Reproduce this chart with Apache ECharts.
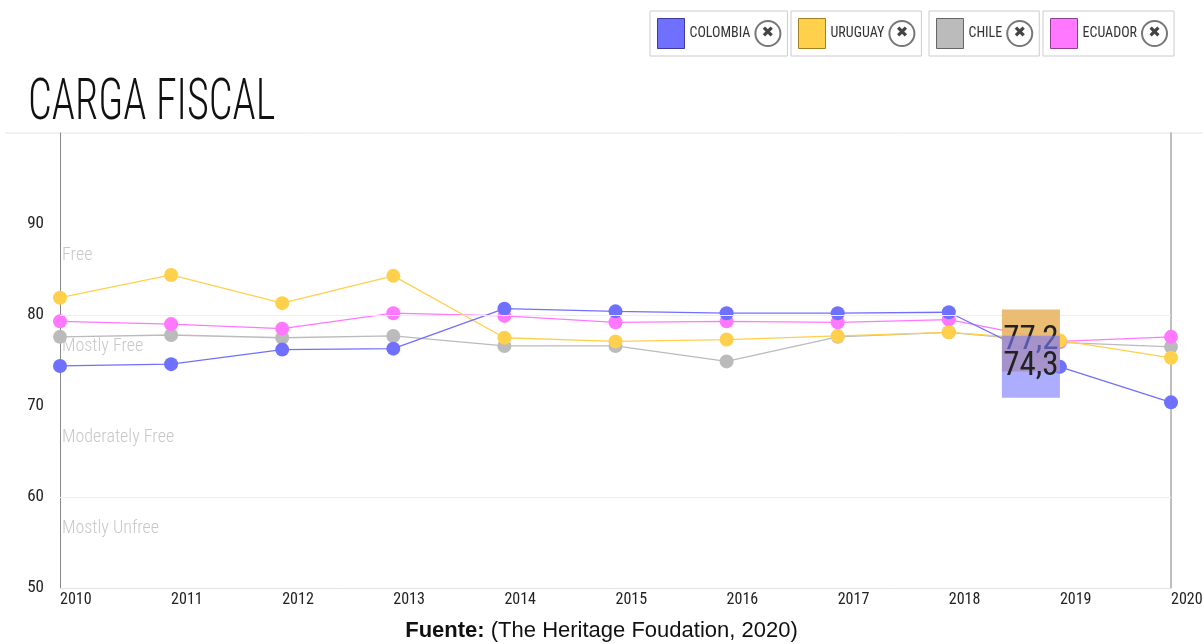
<!DOCTYPE html>
<html>
<head>
<meta charset="utf-8">
<script src="https://cdn.jsdelivr.net/npm/echarts@6/dist/echarts.min.js"></script>
<style>
  html, body { margin: 0; padding: 0; background: #fff; }
  #chart { width: 1203px; height: 644px; }
</style>
</head>
<body>
<div id="chart"></div>
<script>
// datos (indice de carga fiscal)
const years = ["2010", "2011", "2012", "2013", "2014", "2015", "2016", "2017", "2018", "2019", "2020"];
const colombia = [74.4, 74.6, 76.2, 76.3, 80.7, 80.4, 80.2, 80.2, 80.3, 74.3, 70.4];
const uruguay = [81.9, 84.4, 81.3, 84.3, 77.5, 77.1, 77.3, 77.7, 78.1, 77.2, 75.3];
const chile = [77.6, 77.8, 77.5, 77.7, 76.6, 76.6, 74.9, 77.6, 78.1, 77.0, 76.5];
const ecuador = [79.3, 79.0, 78.5, 80.2, 79.9, 79.2, 79.3, 79.2, 79.5, 77.1, 77.6];
const zones = [
  { name: "Free", from: 80, to: 90 },
  { name: "Mostly Free", from: 70, to: 80 },
  { name: "Moderately Free", from: 60, to: 70 },
  { name: "Mostly Unfree", from: 50, to: 60 },
];
const yTicks = [50, 60, 70, 80, 90];

const narrow = "'Roboto Condensed', 'DejaVu Sans Condensed', sans-serif";
const chart = echarts.init(document.getElementById("chart"));

const countries = [
  { name: "COLOMBIA", data: colombia, color: "#7070ff", border: "#3c3ca0" },
  { name: "URUGUAY", data: uruguay, color: "#ffd04c", border: "#a08020" },
  { name: "CHILE", data: chile, color: "#bbbbbb", border: "#666666" },
  { name: "ECUADOR", data: ecuador, color: "#ff78ff", border: "#904090" },
];
const legendLefts = [650, 791, 929, 1043];

function makeSeries(c, extra) {
  return Object.assign(
    {
      name: c.name,
      type: "line",
      data: c.data,
      symbol: "circle",
      symbolSize: 14,
      showSymbol: true,
      itemStyle: { color: c.color },
      lineStyle: { color: c.color, width: 1.3 },
      emphasis: { disabled: true },
      animation: false,
    },
    extra || {}
  );
}

function hoverBox(value, fill, z) {
  return {
    z: z,
    silent: true,
    symbol: "rect",
    symbolSize: [58, 62],
    symbolOffset: [-29, 0],
    itemStyle: { color: fill },
    label: {
      show: true,
      position: "inside",
      formatter: String(value).replace(".", ","),
      fontFamily: narrow,
      fontWeight: 400,
      fontSize: 33,
      color: "#222",
    },
    data: [{ coord: ["2019", value], value: value }],
  };
}

const option = {
  backgroundColor: "#fff",
  textStyle: { fontFamily: narrow },
  title: [
    {
      text: "{b|Fuente:} (The Heritage Foudation, 2020)",
      left: "center",
      top: 615,
      textStyle: {
        fontFamily: "'Liberation Sans', Arial, sans-serif",
        fontSize: 22,
        fontWeight: "normal",
        color: "#111",
        rich: {
          b: { fontFamily: "'Liberation Sans', Arial, sans-serif", fontSize: 22, fontWeight: "bold", color: "#111" },
        },
      },
    },
  ],
  legend: countries.map((c, i) => ({
    data: [c.name],
    left: legendLefts[i],
    top: 11,
    orient: "horizontal",
    selectedMode: false,
    icon: "rect",
    itemWidth: 27,
    itemHeight: 30,
    itemGap: 0,
    padding: [7, 6, 7, 7],
    borderColor: "#cccccc",
    borderWidth: 1,
    itemStyle: { borderColor: c.border, borderWidth: 1 },
    formatter: "{n|" + c.name + "}{x|✖}",
    textStyle: {
      rich: {
        n: { fontFamily: narrow, fontWeight: 400, fontSize: 14, color: "#333", padding: [0, 5, 0, 0] },
        x: {
          width: 25,
          height: 25,
          align: "center",
          borderRadius: 14,
          borderWidth: 2,
          borderColor: "#777",
          color: "#444",
          fontSize: 15,
          fontWeight: "bold",
          fontFamily: "'DejaVu Sans', sans-serif",
        },
      },
    },
  })),
  graphic: [
    {
      type: "text",
      left: 28,
      top: 76,
      scaleX: 0.74,
      silent: true,
      style: {
        text: "CARGA FISCAL",
        font: "300 57px 'Roboto Condensed', sans-serif",
        fill: "#111",
      },
    },
    {
      type: "line",
      shape: { x1: 5, y1: 133, x2: 1203, y2: 133 },
      style: { stroke: "#e6e6e6", lineWidth: 1 },
      silent: true,
    },
  ],
  grid: { left: 60, right: 32, top: 133, bottom: 56, outerBoundsMode: "none", containLabel: false },
  xAxis: {
    type: "category",
    data: years,
    boundaryGap: false,
    axisLine: { lineStyle: { color: "#e2e2e2" } },
    axisTick: { show: false },
    axisLabel: {
      align: "left",
      margin: 4,
      fontFamily: narrow,
      fontWeight: 400,
      fontSize: 16,
      color: "#222",
    },
    splitLine: { show: false },
  },
  yAxis: [
    {
      type: "value",
      min: 50,
      max: 100,
      interval: 10,
      axisLine: { show: true, lineStyle: { color: "#888" } },
      axisTick: { show: false },
      splitLine: { show: false },
      axisLabel: {
        margin: 16,
        fontFamily: narrow,
        fontWeight: 400,
        fontSize: 17,
        color: "#222",
        formatter: (v) => (yTicks.indexOf(v) >= 0 ? String(v) : ""),
      },
    },
    {
      type: "value",
      position: "right",
      min: 50,
      max: 100,
      interval: 10,
      axisLine: { show: true, lineStyle: { color: "#aaaaaa", width: 1.5 } },
      axisTick: { show: false },
      axisLabel: { show: false },
      splitLine: { show: false },
    },
  ],
  series: [
    makeSeries(countries[2], {
      markLine: {
        silent: true,
        symbol: "none",
        label: { show: false },
        lineStyle: { color: "#eeeeee", type: "solid", width: 1 },
        data: [{ yAxis: 60 }, { yAxis: 80 }],
      },
      markArea: {
        silent: true,
        itemStyle: { color: "rgba(0,0,0,0)" },
        label: {
          show: true,
          position: "insideTopLeft",
          offset: [-3, 17],
          fontFamily: narrow,
          fontWeight: 300,
          fontSize: 18,
          color: "#c8c8c8",
        },
        data: zones.map((z) => [{ name: z.name, yAxis: z.to }, { yAxis: z.from }]),
      },
    }),
    makeSeries(countries[3]),
    makeSeries(countries[1], { markPoint: hoverBox(77.2, "rgba(232,182,104,0.92)", 10) }),
    makeSeries(countries[0], { markPoint: hoverBox(74.3, "rgba(122,122,255,0.62)", 11) }),
  ],
};

chart.setOption(option);
</script>
</body>
</html>
